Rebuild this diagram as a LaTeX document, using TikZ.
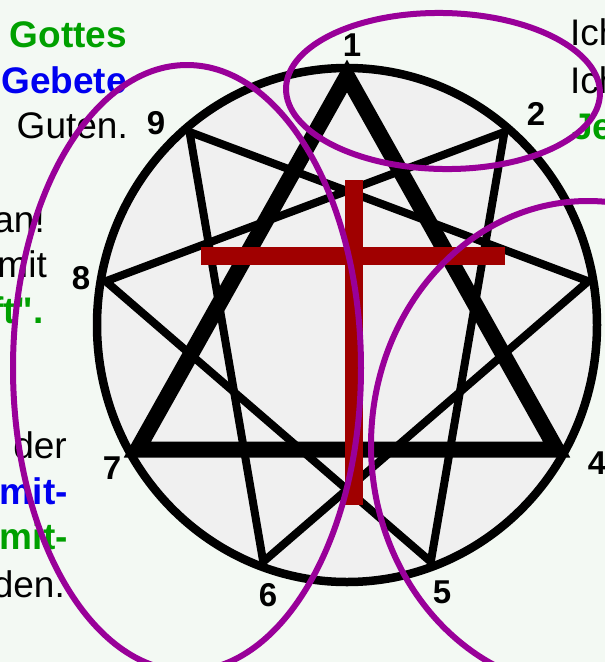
\documentclass[tikz,border=0pt]{standalone}
\usepackage{fontspec}
\setmainfont{Liberation Sans}
\newfontfamily\qfont{Liberation Sans}
\definecolor{bgc}{RGB}{243,249,243}
\definecolor{discfill}{RGB}{240,240,240}
\definecolor{crossred}{RGB}{160,0,0}
\definecolor{purp}{RGB}{153,0,153}
\definecolor{gr}{RGB}{0,160,0}
\definecolor{bl}{RGB}{0,0,240}
\begin{document}
\begin{tikzpicture}[x=1pt,y=-1pt,
  txt/.style={inner sep=0pt, font=\fontsize{37}{44}\selectfont},
  btxt/.style={inner sep=0pt, font=\fontsize{37}{44}\selectfont\bfseries},
  num/.style={inner sep=0pt, font=\fontsize{33}{40}\selectfont\bfseries},
  thinline/.style={line width=8pt, line join=miter},
  thickline/.style={line width=16pt, line join=miter},
  ring/.style={line width=8.5pt},
  purpline/.style={draw=purp, line width=6pt},
  crossbar/.style={fill=crossred}]
\useasboundingbox (0,0) rectangle (605,662);
\clip (0,0) rectangle (605,662);
\fill[bgc] (0,0) rectangle (605,662);

% left text
\node[btxt, text=gr, anchor=base east] (t1) at (127,47) {Gottes};
\node[btxt, text=bl, anchor=base east] (t2) at (127,93) {Gebete};
\node[txt, anchor=base east] (t3) at (128,138) {Guten.};
\node[txt, anchor=base east] (t4) at (45,232) {an!};
\node[txt, anchor=base east] (t5) at (47,277) {mit};
\node[btxt, text=gr, anchor=base east] (t6) at (44,323) {\qfont\bfseries ft".};
\node[txt, anchor=base east] (t7) at (67,458) {der};
\node[btxt, text=bl, anchor=base east] (t8) at (68,504) {mit-};
\node[btxt, text=gr, anchor=base east] (t9) at (68,549) {mit-};
\node[txt, anchor=base east] (t10) at (65,597) {den.};
% right text
\node[txt, anchor=base west] (r1) at (570,45) {Ich};
\node[txt, anchor=base west] (r2) at (570,93) {Ich};
\node[btxt, text=gr, anchor=base west] (r3) at (572,139) {Je};

% enneagram
\foreach \k in {1,...,9}{
  \coordinate (v\k) at ({347+245*cos(90-40*(\k-1))},{325-252*sin(90-40*(\k-1))});
  \coordinate (w\k) at ({347+242*cos(90-40*(\k-1))},{325-249*sin(90-40*(\k-1))});
}
\draw[ring, fill=discfill] (347,325) ellipse [x radius=250pt, y radius=257pt];
\draw[thinline] (v2) -- (v5) -- (v8) -- cycle;
\draw[thinline] (v3) -- (v6) -- (v9) -- cycle;
\draw[thickline] (w1) -- (w4) -- (w7) -- cycle;

% cross
\fill[crossbar] (345,180) rectangle (363,505);
\fill[crossbar] (201,247) rectangle (505,265);

% labels
\node[num] (n1) at (352,45) {1};
\node[num] (n2) at (536,114) {2};
\node[num] (n4) at (597,463) {4};
\node[num] (n5) at (442,592) {5};
\node[num] (n6) at (268,595) {6};
\node[num] (n7) at (112,468) {7};
\node[num] (n8) at (81,278) {8};
\node[num] (n9) at (156,123) {9};

% purple ellipses
\draw[purpline, rotate around={-1:(443,91)}] (443,91) ellipse [x radius=157pt, y radius=78pt];
\draw[purpline] (588,445) ellipse [x radius=217pt, y radius=244pt];
\draw[purpline] (187,368) ellipse [x radius=174pt, y radius=303pt];
\end{tikzpicture}
\end{document}
